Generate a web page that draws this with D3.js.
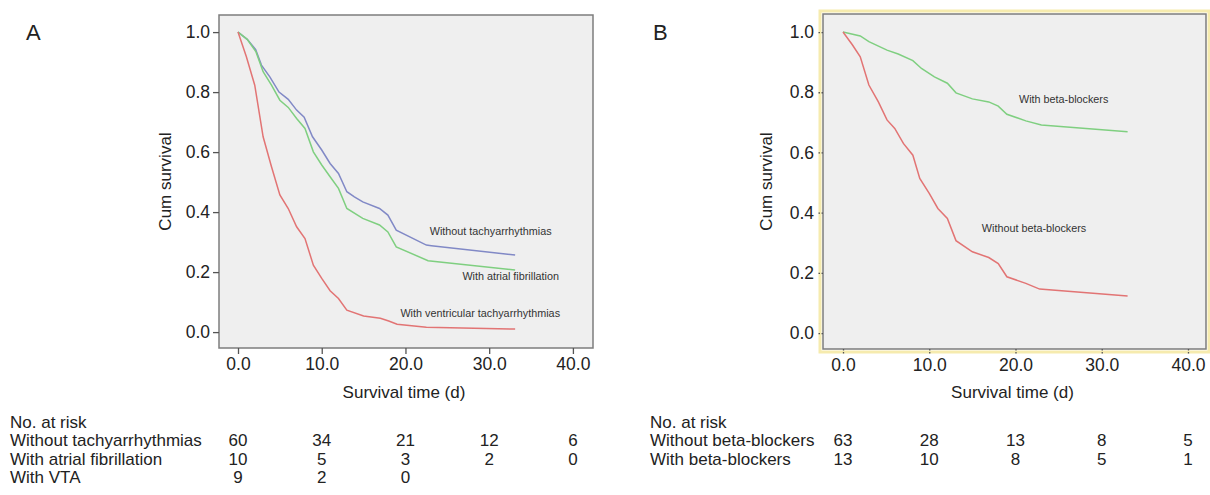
<!DOCTYPE html>
<html>
<head>
<meta charset="utf-8">
<script src="https://cdn.jsdelivr.net/npm/d3@7"></script>
<style>
  body { margin: 0; background: #fff; }
  svg { font-family: "Liberation Sans", Arial, sans-serif; }
</style>
</head>
<body>
<div id="chart"></div>
<script>
// panel A curves (time in days, cumulative survival)
const timeNoTachy = [0, 1.1, 2.1, 2.8, 3.8, 4.9, 6.0, 7.0, 7.9, 8.9, 10.0, 11.0, 12.0, 13.0, 13.9, 14.9, 16.9, 17.9, 18.9, 22.5, 23.1, 33.1];
const survNoTachy = [1.0, 0.976, 0.942, 0.89, 0.851, 0.80, 0.776, 0.74, 0.716, 0.651, 0.607, 0.562, 0.529, 0.468, 0.451, 0.434, 0.412, 0.39, 0.34, 0.29, 0.288, 0.257];

const timeAF = [0, 1.1, 2.15, 3.0, 4.0, 5.0, 6.0, 7.0, 8.0, 9.0, 10.0, 11.0, 12.0, 13.0, 14.9, 16.9, 17.9, 18.9, 22.7, 33.1];
const survAF = [1.0, 0.976, 0.934, 0.868, 0.823, 0.773, 0.749, 0.712, 0.679, 0.601, 0.557, 0.518, 0.479, 0.412, 0.379, 0.357, 0.334, 0.284, 0.238, 0.207];

const timeVTA = [0, 1.0, 2.0, 3.0, 4.0, 5.0, 6.0, 7.0, 8.0, 9.0, 10.0, 11.0, 12.0, 13.0, 15.0, 17.0, 18.0, 19.0, 22.5, 33.1];
const survVTA = [1.0, 0.918, 0.823, 0.651, 0.551, 0.457, 0.412, 0.351, 0.312, 0.223, 0.179, 0.138, 0.112, 0.073, 0.054, 0.046, 0.037, 0.026, 0.016, 0.01];

// panel B curves
const timeBB = [0, 2.0, 3.0, 5.1, 6.4, 8.1, 9.1, 10.6, 12.1, 13.1, 15.0, 16.9, 18.0, 19.0, 21.2, 23.0, 33.0];
const survBB = [1.0, 0.987, 0.968, 0.940, 0.927, 0.905, 0.879, 0.851, 0.83, 0.798, 0.778, 0.768, 0.754, 0.727, 0.705, 0.691, 0.669];

const timeNoBB = [0, 1.1, 2.0, 3.0, 4.1, 5.1, 6.0, 7.0, 8.1, 8.9, 10.0, 11.0, 12.1, 13.1, 15.0, 16.9, 18.0, 19.0, 21.2, 22.8, 33.0];
const survNoBB = [1.0, 0.957, 0.918, 0.824, 0.768, 0.708, 0.680, 0.630, 0.591, 0.514, 0.464, 0.414, 0.381, 0.307, 0.27, 0.251, 0.231, 0.187, 0.165, 0.146, 0.123];

// axes
const xTicks = [0, 10, 20, 30, 40];
const yTicks = [0, 0.2, 0.4, 0.6, 0.8, 1.0];

// number at risk tables
const riskTimes = [0, 10, 20, 30, 40];
const riskLabelsA = ["Without tachyarrhythmias", "With atrial fibrillation", "With VTA"];
const riskNoTachy = [60, 34, 21, 12, 6];
const riskAF = [10, 5, 3, 2, 0];
const riskVTA = [9, 2, 0];
const riskLabelsB = ["Without beta-blockers", "With beta-blockers"];
const riskNoBB = [63, 28, 13, 8, 5];
const riskBB = [13, 10, 8, 5, 1];

const W = 1210, H = 495;
const blue = "#8189c6", green = "#7fcf80", red = "#e27474";
const ink = "#222";

const svg = d3.select("#chart").append("svg")
  .attr("width", W).attr("height", H);

function drawPanel(o) {
  const x = d3.scaleLinear().domain(o.xDomain).range([o.left, o.right]);
  const y = d3.scaleLinear().domain(o.yDomain).range([o.bottom, o.top]);
  const g = svg.append("g");

  if (o.highlight) {
    g.append("rect")
      .attr("x", o.left - 3).attr("y", o.top - 3)
      .attr("width", o.right - o.left + 6).attr("height", o.bottom - o.top + 6)
      .attr("fill", "none").attr("stroke", "#f6ebae").attr("stroke-width", 3);
  }

  g.append("rect")
    .attr("x", o.left).attr("y", o.top)
    .attr("width", o.right - o.left).attr("height", o.bottom - o.top)
    .attr("fill", "#efefef").attr("stroke", "#7d7d7d").attr("stroke-width", 1.5);

  const yAxis = g.append("g")
    .attr("transform", `translate(${o.left},0)`)
    .call(d3.axisLeft(y).tickValues(yTicks).tickFormat(d3.format(".1f")).tickSize(6).tickPadding(3));
  const xAxis = g.append("g")
    .attr("transform", `translate(0,${o.bottom})`)
    .call(d3.axisBottom(x).tickValues(xTicks).tickFormat(d3.format(".1f")).tickSize(6).tickPadding(4));

  [xAxis, yAxis].forEach(a => {
    a.select(".domain").remove();
    a.selectAll("text").attr("font-size", 17.5).attr("fill", ink)
      .attr("font-family", "Liberation Sans, Arial, sans-serif");
    a.selectAll("line").attr("stroke", "#555").attr("stroke-width", 1.3)
      .attr("stroke-dasharray", o.highlight ? "1.5,1.5" : null);
  });

  const line = d3.line().x(d => x(d[0])).y(d => y(d[1]));
  o.series.forEach(s => {
    g.append("path")
      .datum(d3.zip(s.t, s.s))
      .attr("d", line)
      .attr("fill", "none")
      .attr("stroke", s.color)
      .attr("stroke-width", 1.5);
  });

  o.labels.forEach(l => {
    g.append("text")
      .attr("x", x(l.t)).attr("y", y(l.s))
      .attr("font-size", 10.8).attr("fill", "#333")
      .text(l.text);
  });

  g.append("text")
    .attr("transform", `translate(${o.yTitleX},${(o.top + o.bottom) / 2}) rotate(-90)`)
    .attr("text-anchor", "middle").attr("font-size", 17).attr("fill", ink)
    .text("Cum survival");
  g.append("text")
    .attr("x", (o.left + o.right) / 2 - 2).attr("y", 398)
    .attr("text-anchor", "middle").attr("font-size", 17).attr("fill", ink)
    .text("Survival time (d)");

  g.append("text")
    .attr("x", o.letterX).attr("y", 40)
    .attr("font-size", 22).attr("fill", ink)
    .text(o.letter);

  // number at risk
  const rows = g.append("g");
  rows.append("text")
    .attr("x", o.tableX).attr("y", 428)
    .attr("font-size", 17).attr("fill", ink).text("No. at risk");
  o.risk.forEach((r, i) => {
    const ry = 446 + i * 18.5;
    rows.append("text")
      .attr("x", o.tableX).attr("y", ry)
      .attr("font-size", 17).attr("fill", ink).text(r.label);
    rows.selectAll(null)
      .data(r.values)
      .join("text")
      .attr("x", (d, j) => x(riskTimes[j]))
      .attr("y", ry)
      .attr("text-anchor", "middle")
      .attr("font-size", 17).attr("fill", ink)
      .text(d => d);
  });
}

drawPanel({
  letter: "A", letterX: 26,
  left: 219, right: 593, top: 15, bottom: 348,
  xDomain: [-2.27, 42.4], yDomain: [-0.053, 1.057],
  yTitleX: 171, tableX: 10,
  series: [
    { t: timeNoTachy, s: survNoTachy, color: blue },
    { t: timeAF, s: survAF, color: green },
    { t: timeVTA, s: survVTA, color: red }
  ],
  labels: [
    { t: 22.9, s: 0.325, text: "Without tachyarrhythmias" },
    { t: 26.8, s: 0.175, text: "With atrial fibrillation" },
    { t: 19.4, s: 0.05, text: "With ventricular tachyarrhythmias" }
  ],
  risk: [
    { label: riskLabelsA[0], values: riskNoTachy },
    { label: riskLabelsA[1], values: riskAF },
    { label: riskLabelsA[2], values: riskVTA }
  ]
});

drawPanel({
  letter: "B", letterX: 653,
  left: 823, right: 1206, top: 14, bottom: 349,
  xDomain: [-2.32, 42.09], yDomain: [-0.053, 1.06],
  yTitleX: 772, tableX: 650,
  highlight: true,
  series: [
    { t: timeBB, s: survBB, color: green },
    { t: timeNoBB, s: survNoBB, color: red }
  ],
  labels: [
    { t: 20.4, s: 0.765, text: "With beta-blockers" },
    { t: 16.1, s: 0.335, text: "Without beta-blockers" }
  ],
  risk: [
    { label: riskLabelsB[0], values: riskNoBB },
    { label: riskLabelsB[1], values: riskBB }
  ]
});
</script>
</body>
</html>
